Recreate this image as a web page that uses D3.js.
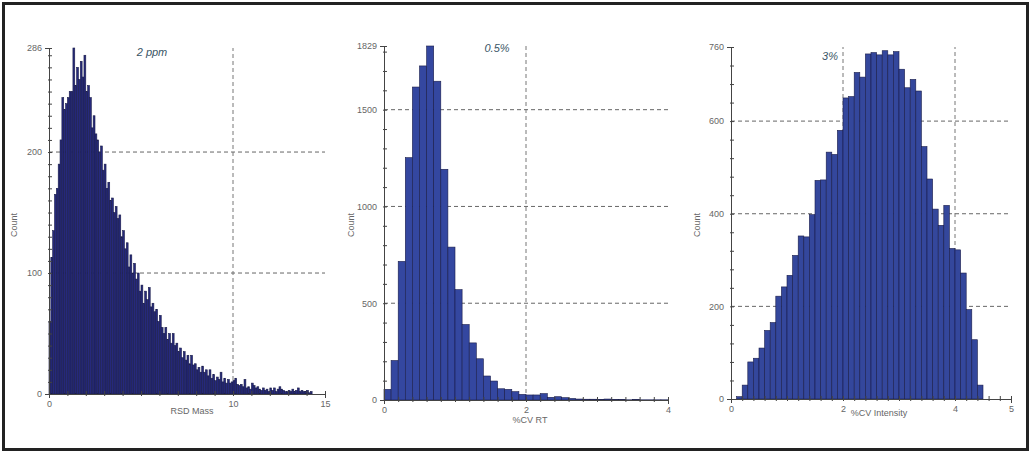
<!DOCTYPE html>
<html><head><meta charset="utf-8">
<script src="https://cdn.jsdelivr.net/npm/d3@7"></script>
<style>body{margin:0;background:#fff}svg{display:block}</style>
</head><body><svg id="c" width="1034" height="455"></svg>
<script>
const massCounts=[60,113,135,165,170,190,210,245,235,240,245,250,250,286,255,270,260,275,262,280,250,255,245,220,230,215,210,200,205,185,190,170,175,160,162,150,155,145,148,130,135,120,125,105,115,100,108,95,100,85,90,75,85,78,88,72,75,68,70,60,65,55,50,55,45,50,42,50,40,42,35,38,30,35,28,32,25,32,24,25,20,22,18,23,18,20,15,20,13,16,11,14,12,18,10,13,9,12,9,10,11,13,8,7,8,6,12,5,6,4,9,7,5,6,4,3,5,3,4,2,5,3,5,2,4,6,4,3,2,2,3,2,4,2,3,5,2,3,2,2,3,1,2];
const rtCounts=[55,204,716,1252,1617,1726,1829,1647,1192,790,570,390,295,213,124,98,58,55,43,29,26,26,33,14,17,12,8,5,4,4,3,5,2,2,1,2,1,1,1,1];
const intCounts=[5,30,80,88,110,148,165,222,242,267,310,352,350,398,472,473,533,528,580,650,653,705,695,745,748,743,752,743,750,712,672,690,665,545,475,410,375,418,325,322,272,193,128,30];
const panels=[
 {counts:massCounts,start:0,bin:0.1,xMax:15,yMax:286,xLabels:[0,10,15],xMinor:1,yLabels:[0,100,200,286],yMinor:10,hGrid:[100,200],vGrid:[10],
  px:[49,325],py:[394,48],fill:"#26297c",title:"2 ppm",tx:152,ty:56,xt:"RSD Mass",xtx:192,xty:414,cx:17},
 {counts:rtCounts,start:0,bin:0.1,xMax:4,yMax:1829,xLabels:[0,2,4],xMinor:0.2,yLabels:[0,500,1000,1500,1829],yMinor:100,hGrid:[500,1000,1500],vGrid:[2],
  px:[384,668],py:[400,46],fill:"#3447a0",title:"0.5%",tx:497,ty:52,xt:"%CV RT",xtx:530,xty:423,cx:354},
 {counts:intCounts,start:0.1,bin:0.1,xMax:5,yMax:760,xLabels:[0,2,4,5],xMinor:0.2,yLabels:[0,200,400,600,760],yMinor:40,hGrid:[200,400,600],vGrid:[2,4],
  px:[731,1011],py:[399,47],fill:"#34479c",title:"3%",tx:830,ty:60,xt:"%CV Intensity",xtx:879,xty:416,cx:700}
];
const svg=d3.select("#c");
svg.append("rect").attr("x",3.5).attr("y",3.5).attr("width",1024).attr("height",446).attr("fill","none").attr("stroke","#222").attr("stroke-width",3);
const ff="Arial, Liberation Sans, sans-serif";
panels.forEach(p=>{
 const x=d3.scaleLinear().domain([0,p.xMax]).range(p.px);
 const y=d3.scaleLinear().domain([0,p.yMax]).range(p.py);
 const g=svg.append("g");
 p.hGrid.forEach(v=>g.append("line").attr("x1",p.px[0]).attr("x2",p.px[1]).attr("y1",y(v)).attr("y2",y(v)).attr("stroke","#666").attr("stroke-dasharray","4,3"));
 p.vGrid.forEach(v=>g.append("line").attr("x1",x(v)).attr("x2",x(v)).attr("y1",p.py[0]).attr("y2",p.py[1]).attr("stroke","#777").attr("stroke-dasharray","4,3"));
 g.selectAll("rect.b").data(p.counts).join("rect")
  .attr("x",(d,i)=>x(p.start+i*p.bin)).attr("width",(d,i)=>x(p.start+(i+1)*p.bin)-x(p.start+i*p.bin))
  .attr("y",d=>y(d)).attr("height",d=>y(0)-y(d))
  .attr("fill",p.fill).attr("stroke","#1a1d4a").attr("stroke-width",0.6);
 const xa=d3.axisBottom(x).tickValues(d3.range(0,p.xMax+1e-9,p.xMinor)).tickSize(4)
   .tickFormat(v=>p.xLabels.some(l=>Math.abs(l-v)<1e-6)?d3.format("~g")(v):"");
 let yt=d3.range(0,p.yMax,p.yMinor); yt.push(p.yMax);
 const ya=d3.axisLeft(y).tickValues(yt).tickSize(4)
   .tickFormat(v=>p.yLabels.includes(v)?v:"");
 const gx=g.append("g").attr("transform",`translate(0,${p.py[0]})`).call(xa);
 const gy=g.append("g").attr("transform",`translate(${p.px[0]},0)`).call(ya);
 [gx,gy].forEach(a=>{a.select(".domain").attr("stroke","#444");a.selectAll("line").attr("stroke","#444");
   a.selectAll("text").attr("fill","#666").attr("font-size",9).attr("font-family",ff);});
 gy.selectAll(".tick line").attr("x2",3).attr("x1",-1);
 gx.selectAll(".tick line").attr("y1",-3).attr("y2",2);
 g.append("text").attr("x",p.tx).attr("y",p.ty).attr("text-anchor","middle").attr("font-style","italic")
  .attr("font-size",11).attr("fill","#3a5566").attr("font-family",ff).text(p.title);
 g.append("text").attr("x",p.xtx).attr("y",p.xty).attr("text-anchor","middle").attr("font-size",9)
  .attr("fill","#666").attr("font-family",ff).text(p.xt);
 g.append("text").attr("transform",`translate(${p.cx},225) rotate(-90)`).attr("text-anchor","middle").attr("font-size",9)
  .attr("fill","#666").attr("font-family",ff).text("Count");
});
</script></body></html>
